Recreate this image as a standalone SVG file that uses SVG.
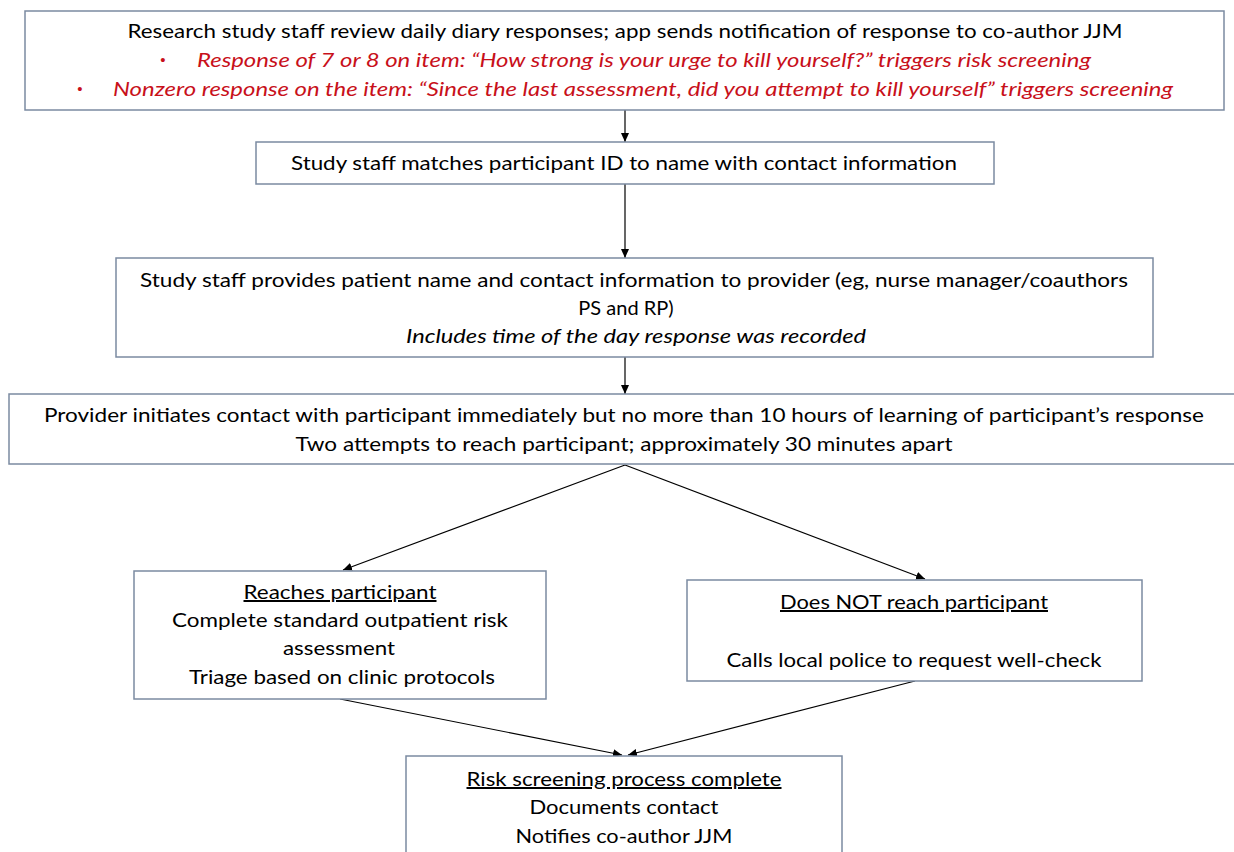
<svg xmlns="http://www.w3.org/2000/svg" width="1234" height="852" viewBox="0 0 1234 852">
<style>
.box{fill:#fff;stroke:#7b8aa1;stroke-width:1.5}
.t{font-family:Lato,"Liberation Sans",sans-serif;font-size:20px;fill:#000;text-anchor:middle}
.red{fill:#c8101a;font-style:italic}
.bul{fill:#c8101a;font-family:"Liberation Sans",sans-serif;font-size:15px;text-anchor:middle}
.it{font-style:italic}
.u{text-decoration:underline}
.c{stroke:#000;stroke-width:1.2;fill:none;marker-end:url(#ah)}
</style>
<defs>
<marker id="ah" markerUnits="userSpaceOnUse" markerWidth="10" markerHeight="10" refX="9" refY="5" orient="auto">
<path d="M0,1 L9,5 L0,9 Z" fill="#000"/>
</marker>
</defs>
<rect width="1234" height="852" fill="#fff"/>
<g id="connectors">
<line class="c" x1="625" y1="110" x2="625" y2="142"/>
<line class="c" x1="625" y1="184" x2="625" y2="258"/>
<line class="c" x1="625" y1="357" x2="625" y2="394"/>
<line class="c" x1="625" y1="465" x2="343" y2="570"/>
<line class="c" x1="625" y1="465" x2="925" y2="579"/>
<line class="c" x1="340" y1="699" x2="622" y2="755"/>
<line class="c" x1="915" y1="681" x2="628" y2="755"/>
</g>
<g id="n1">
<rect class="box" x="25" y="11" width="1199" height="99"/>
<text class="t" x="625" y="38" textLength="995" lengthAdjust="spacingAndGlyphs">Research study staff review daily diary responses; app sends notification of response to co-author JJM</text>
<text class="bul" x="163" y="65">•</text>
<text class="t red" x="644" y="67" textLength="894" lengthAdjust="spacingAndGlyphs">Response of 7 or 8 on item: “How strong is your urge to kill yourself?” triggers risk screening</text>
<text class="bul" x="80" y="94">•</text>
<text class="t red" x="643" y="96" textLength="1060" lengthAdjust="spacingAndGlyphs">Nonzero response on the item: “Since the last assessment, did you attempt to kill yourself” triggers screening</text>
</g>
<g id="n2">
<rect class="box" x="256" y="142" width="738" height="42"/>
<text class="t" x="624" y="170" textLength="666" lengthAdjust="spacingAndGlyphs">Study staff matches participant ID to name with contact information</text>
</g>
<g id="n3">
<rect class="box" x="116" y="258" width="1037" height="99"/>
<text class="t" x="634" y="287" textLength="988" lengthAdjust="spacingAndGlyphs">Study staff provides patient name and contact information to provider (eg, nurse manager/coauthors</text>
<text class="t" x="626" y="315">PS and RP)</text>
<text class="t it" x="636" y="343" textLength="460" lengthAdjust="spacingAndGlyphs">Includes time of the day response was recorded</text>
</g>
<g id="n4">
<rect class="box" x="9" y="394" width="1240" height="70"/>
<text class="t" x="624" y="422" textLength="1160" lengthAdjust="spacingAndGlyphs">Provider initiates contact with participant immediately but no more than 10 hours of learning of participant’s response</text>
<text class="t" x="624" y="451" textLength="657" lengthAdjust="spacingAndGlyphs">Two attempts to reach participant; approximately 30 minutes apart</text>
</g>
<g id="n5">
<rect class="box" x="134" y="571" width="412" height="128"/>
<text class="t u" x="340" y="599" textLength="193" lengthAdjust="spacingAndGlyphs">Reaches participant</text>
<text class="t" x="340" y="627" textLength="336" lengthAdjust="spacingAndGlyphs">Complete standard outpatient risk</text>
<text class="t" x="339" y="655" textLength="112" lengthAdjust="spacingAndGlyphs">assessment</text>
<text class="t" x="342" y="684" textLength="306" lengthAdjust="spacingAndGlyphs">Triage based on clinic protocols</text>
</g>
<g id="n6">
<rect class="box" x="687" y="580" width="455" height="101"/>
<text class="t u" x="914" y="609" textLength="268" lengthAdjust="spacingAndGlyphs">Does NOT reach participant</text>
<text class="t" x="914" y="667" textLength="375" lengthAdjust="spacingAndGlyphs">Calls local police to request well-check</text>
</g>
<g id="n7">
<rect class="box" x="406" y="756" width="436" height="110"/>
<text class="t u" x="624" y="786" textLength="315" lengthAdjust="spacingAndGlyphs">Risk screening process complete</text>
<text class="t" x="624" y="814" textLength="189" lengthAdjust="spacingAndGlyphs">Documents contact</text>
<text class="t" x="624" y="843" textLength="217" lengthAdjust="spacingAndGlyphs">Notifies co-author JJM</text>
</g>
</svg>
